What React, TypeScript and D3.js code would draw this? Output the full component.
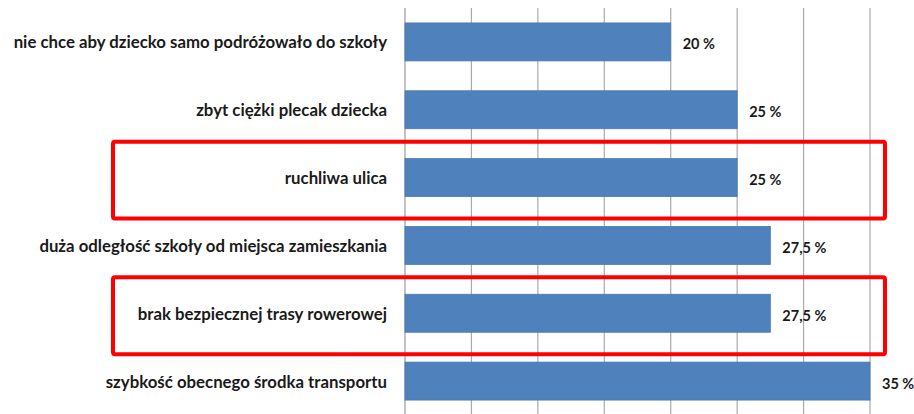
import React from "react";
import * as d3 from "d3";

const categories = [
  "nie chce aby dziecko samo podróżowało do szkoły",
  "zbyt ciężki plecak dziecka",
  "ruchliwa ulica",
  "duża odległość szkoły od miejsca zamieszkania",
  "brak bezpiecznej trasy rowerowej",
  "szybkość obecnego środka transportu",
];
const values = [20, 25, 25, 27.5, 27.5, 35];
const valueLabels = ["20 %", "25 %", "25 %", "27,5 %", "27,5 %", "35 %"];
const gridTicks = [0, 5, 10, 15, 20, 25, 30, 35];
const highlighted = ["ruchliwa ulica", "brak bezpiecznej trasy rowerowej"];

const W = 914;
const H = 414;

export default function App() {
  const x = d3.scaleLinear().domain([0, 35]).range([405, 870]);
  const y = d3
    .scaleBand<string>()
    .domain(categories)
    .range([8, 415])
    .paddingInner(0.44)
    .paddingOuter(0.22);
  const bw = y.bandwidth();
  const step = y.step();
  const font = "Lato, 'Open Sans', sans-serif";

  return (
    <svg
      width={W}
      height={H}
      style={{ position: "absolute", left: 0, top: 0, background: "#fff" }}
    >
      {gridTicks.map((t) => (
        <line
          key={t}
          x1={x(t)}
          x2={x(t)}
          y1={8}
          y2={H}
          stroke={t === 0 ? "#9a9a9a" : "#aaaaaa"}
          strokeWidth={1.2}
        />
      ))}
      {categories.map((c, i) => {
        const by = y(c)!;
        return (
          <g key={c}>
            <rect
              x={x(0)}
              y={by}
              width={x(values[i]) - x(0)}
              height={bw}
              fill="#4f81bd"
              stroke="#4a7ab3"
              strokeWidth={0.8}
            />
            <text
              x={387}
              y={by + bw / 2}
              textAnchor="end"
              dominantBaseline="central"
              fontFamily={font}
              fontWeight={700}
              fontSize={16.8}
              fill="#1a1a1a"
            >
              {c}
            </text>
            <text
              x={x(values[i]) + 12}
              y={by + bw / 2 + 2}
              dominantBaseline="central"
              fontFamily={font}
              fontWeight={700}
              fontSize={14.5}
              fill="#1a1a1a"
            >
              {valueLabels[i]}
            </text>
          </g>
        );
      })}
      {highlighted.map((c) => {
        const by = y(c)!;
        const top = by - (step - bw) / 2 - 2;
        const bottom = by + bw + (step - bw) / 2 + 7;
        return (
          <rect
            key={"h" + c}
            x={113}
            y={top}
            width={x(35) + 15 - 113}
            height={bottom - top}
            rx={2}
            fill="none"
            stroke="#ff0000"
            strokeWidth={4}
          />
        );
      })}
    </svg>
  );
}
